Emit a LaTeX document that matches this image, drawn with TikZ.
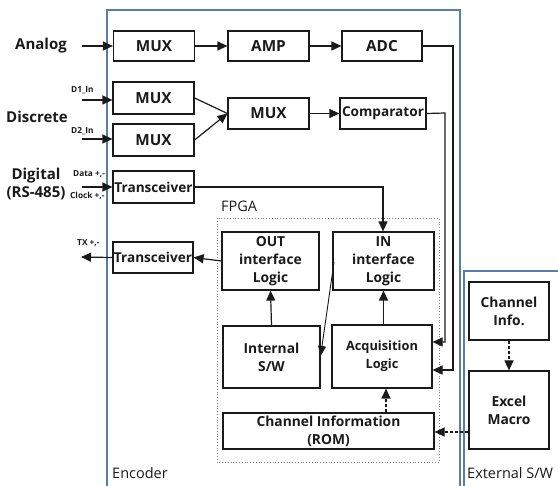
\documentclass[tikz,border=0pt]{standalone}
\usepackage{fontspec}
\setmainfont{Open Sans}
\usetikzlibrary{arrows.meta}
\definecolor{frame}{HTML}{5A7CA8}
\definecolor{ink}{HTML}{1A1A1A}
\tikzset{
  blk/.style={draw=ink, line width=1.2pt, rectangle, inner sep=0pt, align=center,
    font=\bfseries\fontsize{13.8}{18}\selectfont, text=ink},
  big/.style={font=\bfseries\fontsize{15.3}{18}\selectfont},
  mid/.style={font=\bfseries\fontsize{13.6}{16}\selectfont},
  lbl/.style={inner sep=0pt, text=ink, font=\bfseries\fontsize{15}{18}\selectfont, align=center},
  tiny/.style={inner sep=0pt, text=ink, font=\bfseries\fontsize{8.3}{9}\selectfont},
  reg/.style={inner sep=0pt, text=ink, font=\fontsize{14.5}{17}\selectfont},
  arr/.style={draw=ink, line width=1.2pt, -{Triangle[length=10pt,width=9pt]}},
  thinarr/.style={draw=ink, line width=0.9pt, -{Triangle[length=10pt,width=8pt]}},
  wire/.style={draw=ink, line width=1.2pt},
  darr/.style={draw=ink, line width=1.2pt, dash pattern=on 3pt off 2pt, -{Triangle[length=10pt,width=9pt]}},
  frm/.style={draw=frame, line width=1.3pt}
}
\begin{document}
\begin{tikzpicture}[x=1pt,y=-1pt]
\useasboundingbox (0,0) rectangle (558,486);
% frames
\draw[frm] (107,486) -- (107,10) -- (460,10) -- (460,486);
\draw[frm] (464,486) -- (464,271) -- (560,271);
\node[reg, anchor=west] (enc) at (112,473) {Encoder};
\node[reg, anchor=west] (ext) at (467,473) {External S/W};
% FPGA
\draw[draw=gray, line width=0.8pt, dotted] (217,218) rectangle (439,462);
\node[reg, anchor=west] (fpga) at (221,206) {FPGA};
% blocks
\node[blk,big, minimum width=81pt, minimum height=30pt] (mux1) at (154,46) {MUX};
\node[blk,big, minimum width=81pt, minimum height=30pt] (amp) at (268.5,46) {AMP};
\node[blk,big, minimum width=80pt, minimum height=30pt] (adc) at (382,46) {ADC};
\node[blk,big, minimum width=81pt, minimum height=32pt] (muxa) at (153.5,98) {MUX};
\node[blk,big, minimum width=81pt, minimum height=32pt] (muxb) at (153.5,140) {MUX};
\node[blk,big, minimum width=81pt, minimum height=31pt] (muxm) at (268.5,113.5) {MUX};
\node[blk,mid, minimum width=86pt, minimum height=31pt] (comp) at (383,113.5) {Comparator};
\node[blk,mid, minimum width=81pt, minimum height=32pt] (trx1) at (153.5,187) {Transceiver};
\node[blk,mid, minimum width=80pt, minimum height=31pt] (trx2) at (153,257.5) {Transceiver};
\node[blk, minimum width=97pt, minimum height=58pt] (out) at (270.5,261) {OUT\\interface\\Logic};
\node[blk, minimum width=101pt, minimum height=58pt] (in) at (383.5,261) {IN\\interface\\Logic};
\node[blk, minimum width=97pt, minimum height=62pt] (isw) at (271.5,357) {Internal\\S/W};
\node[blk, font=\bfseries\fontsize{12.8}{18}\selectfont, minimum width=100pt, minimum height=63pt] (acq) at (382,356.5) {Acquisition\\Logic};
\node[blk, minimum width=211pt, minimum height=36pt] (rom) at (328.5,431) {Channel Information\\(ROM)};
\node[blk, minimum width=80pt, minimum height=58pt] (chi) at (509,311) {Channel\\Info.};
\node[blk, minimum width=80pt, minimum height=78pt] (xls) at (509,410) {Excel\\Macro};
% input labels
\node[lbl] (an) at (41,46) {Analog};
\node[lbl] (dis) at (37,117) {Discrete};
\node[lbl] (dig) at (36,184) {Digital\\(RS-485)};
\node[tiny, anchor=west] (d1) at (71,90) {D1\_In};
\node[tiny, anchor=west] (d2) at (71,131) {D2\_In};
\node[tiny, anchor=west] (dat) at (73,174) {Data +,-};
\node[tiny, anchor=west] (clk) at (70,196) {Clock +,-};
\node[tiny, anchor=west] (tx) at (77,243) {TX +,-};
\coordinate (ia) at (82,46);
\coordinate (i1) at (82,100);
\coordinate (i2) at (82,139);
\coordinate (i3) at (82,187);
\coordinate (to) at (81,257);
% arrows
\draw[arr] (ia) -- (mux1.west |- ia);
\draw[arr] (i1) -- (muxa.west |- i1);
\draw[arr] (i2) -- (muxb.west |- i2);
\draw[arr] (i3) -- (trx1.west |- i3);
\draw[arr] (mux1) -- (amp);
\draw[arr] (amp) -- (adc);
\draw[arr] (muxm) -- (comp);
\draw[wire] (muxa.east) -- (muxm.west);
\draw[arr] (muxb.east) -- (muxm.west);
\draw[arr] (trx1.east) -| (in.north -| 383,0);
\draw[arr] (out.west) -- (trx2.east);
\draw[arr] (trx2.west) -- (to);
\draw[arr] (isw.north) -- (out.south);
\draw[arr] (acq.north -| in.south) -- (in.south);
\draw[thinarr] (334,262) -- (isw.east |- 0,356);
\draw[arr] (adc.east) -- (453,46) |- (acq.east |- 0,370);
\draw[arr] (comp.east) -- (445,113) |- (acq.east |- 0,342);
\draw[darr] (rom.north -| 386,0) -- (acq.south -| 386,0);
\draw[darr] (xls.west |- 0,432) -- (rom.east |- 0,432);
\draw[darr] (chi.south) -- (xls.north);
\end{tikzpicture}
\end{document}
